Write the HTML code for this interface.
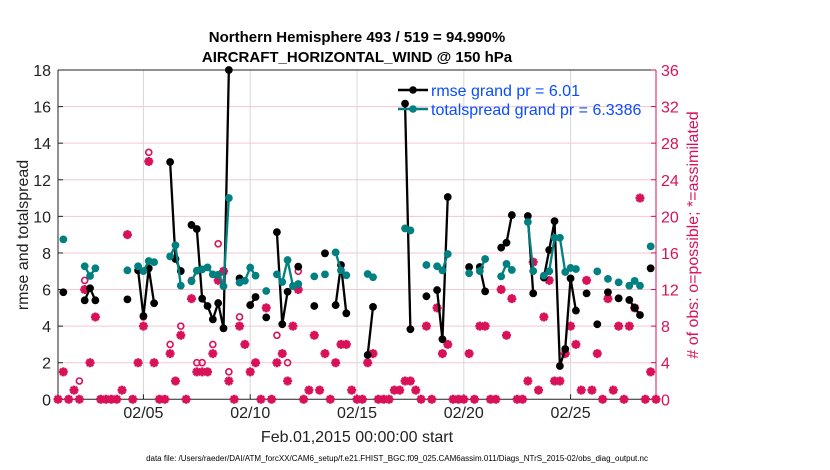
<!DOCTYPE html>
<html><head><meta charset="utf-8">
<style>
html,body{margin:0;padding:0;background:#fff;width:830px;height:470px;overflow:hidden}
svg{display:block;font-family:"Liberation Sans",Arial,sans-serif}
</style></head>
<body>
<svg id="chart" width="830" height="470" viewBox="0 0 830 470" xmlns="http://www.w3.org/2000/svg">
  <g id="grid"></g>
  <g id="axes"></g>
  <g id="marks"></g>
  <text x="357" y="42" text-anchor="middle" font-size="15" font-weight="bold" fill="#000">Northern Hemisphere 493 / 519 = 94.990%</text>
  <text x="357" y="62" text-anchor="middle" font-size="15" font-weight="bold" fill="#000">AIRCRAFT_HORIZONTAL_WIND @ 150 hPa</text>
  <text transform="translate(28,235) rotate(-90)" text-anchor="middle" font-size="16" fill="#222">rmse and totalspread</text>
  <text transform="translate(698,235) rotate(-90)" text-anchor="middle" font-size="16" fill="#d81159"># of obs: o=possible; *=assimilated</text>
  <text x="357" y="442" text-anchor="middle" font-size="16" fill="#222">Feb.01,2015 00:00:00 start</text>
  <text x="397" y="461" text-anchor="middle" font-size="8" fill="#000">data file: /Users/raeder/DAI/ATM_forcXX/CAM6_setup/f.e21.FHIST_BGC.f09_025.CAM6assim.011/Diags_NTrS_2015-02/obs_diag_output.nc</text>
  <g>
    <line x1="398" y1="90" x2="428" y2="90" stroke="#000" stroke-width="2.5"/>
    <circle cx="413" cy="90" r="3.8" fill="#000"/>
    <text x="431" y="96" font-size="16" fill="#0a4cff">rmse grand pr = 6.01</text>
    <line x1="398" y1="109" x2="428" y2="109" stroke="#008080" stroke-width="2.5"/>
    <circle cx="413" cy="109" r="3.8" fill="#008080"/>
    <text x="431" y="115" font-size="16" fill="#0a4cff">totalspread grand pr = 6.3386</text>
  </g>
</svg>
<script>
// slot index: 6-hourly from Feb 01 00Z
const rmseSlots = [1,5,6,7,13,15,16,17,18,21,22,23,25,26,27,28,29,30,31,32,34,36,37,39,41,42,43,45,48,50,52,53,54,58,59,65,66,69,71,72,73,77,79,80,83,84,85,88,89,91,92,93,94,95,96,97,99,101,103,105,107,108,109,111];
const rmseValues = [5.85,5.41,6.07,5.41,5.46,7.05,4.55,7.16,5.25,12.97,7.67,7.01,9.53,9.31,5.5,5.1,4.37,5.26,3.88,18,6.61,5.15,5.59,4.48,9.14,4.1,5.88,7.25,5.1,7.98,5.15,7.34,4.7,2.42,5.05,16.16,3.83,5.63,5.97,3.28,11.06,7.23,7.23,5.9,8.29,8.56,10.07,10.02,5.79,6.65,8.16,9.74,1.82,2.75,6.61,4.85,5.79,4.1,5.85,5.52,5.43,5.0,4.61,7.16];
const spreadSlots = [1,5,6,7,13,15,16,17,18,21,22,23,25,26,27,28,29,30,31,32,34,35,36,37,39,41,42,43,44,45,48,50,52,53,54,58,59,65,66,69,71,72,73,77,79,80,83,84,85,88,89,91,92,93,94,95,96,97,101,103,105,107,108,109,111];
const spreadValues = [8.74,7.27,6.74,7.16,7.05,7.27,7.01,7.56,7.5,7.81,8.42,6.21,6.45,7.03,7.1,7.21,6.83,6.81,6.18,11.0,6.38,6.48,7.2,6.76,5.92,6.83,6.41,7.61,6.19,6.3,6.72,6.83,8.03,7.05,6.78,6.85,6.67,9.34,9.23,7.34,7.27,7.05,7.94,6.89,7.01,7.67,6.72,7.4,7.07,9.69,7.01,6.76,7.0,8.83,8.83,6.96,7.18,7.12,6.99,6.58,6.39,6.21,6.47,6.21,8.36];
const assimCounts = [0,3,0,1,0,12,4,9,0,0,0,0,1,18,0,4,8,26,4,0,0,5,2,7,0,11,3,3,3,5,13,14,2,0,8,6,3,4,0,10,0,4,5,2,8,12,0,1,7,1,5,0,4,6,6,1,0,0,4,5,0,0,0,1,1,2,2,1,0,8,0,10,5,6,0,0,0,5,0,8,8,0,0,12,7,11,0,0,2,15,1,9,13,2,2,5,8,6,1,13,1,5,0,11,1,8,0,8,10,22,0,3,0];
const possibleCounts = [0,3,0,1,2,13,4,9,0,0,0,0,1,18,0,4,9,27,4,0,0,6,2,8,0,13,4,4,3,6,17,14,3,0,9,6,3,4,0,10,0,7,5,4,8,14,0,1,7,1,5,0,4,6,6,1,0,0,4,5,0,0,0,1,1,2,2,1,0,8,0,10,5,6,0,0,0,5,0,8,8,0,0,12,7,11,0,0,2,15,1,9,14,2,2,5,8,6,1,13,1,5,0,11,1,8,0,8,10,22,0,3,0];
const xTickDays = [5,10,15,20,25];
const xTickLabels = ["02/05","02/10","02/15","02/20","02/25"];
const leftTicks = [0,2,4,6,8,10,12,14,16,18];
const rightTicks = [0,4,8,12,16,20,24,28,32,36];

const NS = "http://www.w3.org/2000/svg";
const X0 = 58, X1 = 656, Y0 = 399.3, Y1 = 70;
const slotsTotal = 112;
function xs(slot){ return X0 + slot*(X1-X0)/slotsTotal; }
function xDay(day){ return xs((day-1)*4); }
function yl(v){ return Y0 - v*(Y0-Y1)/18; }
function yr(v){ return Y0 - v*(Y0-Y1)/36; }
function mk(tag, attrs, parent){
  const e = document.createElementNS(NS, tag);
  for (const k in attrs) e.setAttribute(k, attrs[k]);
  parent.appendChild(e); return e;
}
const grid = document.getElementById('grid');
const axes = document.getElementById('axes');
const marks = document.getElementById('marks');

rightTicks.forEach(v=>{
  if (v===0||v===36) return;
  const l = mk('line',{x1:X0,x2:X1,y1:yr(v),y2:yr(v),stroke:'#f3c6d6','stroke-width':1},grid);
  
  
});
xTickDays.forEach(d=>{
  const l = mk('line',{x1:xDay(d),x2:xDay(d),y1:Y1,y2:Y0,stroke:'#d8d8d8','stroke-width':1},grid);
  
  
});
mk('line',{x1:X0,x2:X1,y1:Y1,y2:Y1,stroke:'#222','stroke-width':1},axes);
mk('line',{x1:X0,x2:X1,y1:Y0,y2:Y0,stroke:'#222','stroke-width':1},axes);
mk('line',{x1:X0,x2:X0,y1:Y1,y2:Y0,stroke:'#222','stroke-width':1},axes);
mk('line',{x1:X1,x2:X1,y1:Y1,y2:Y0,stroke:'#d81159','stroke-width':1},axes);
leftTicks.forEach(v=>{
  mk('line',{x1:X0,x2:X0+5,y1:yl(v),y2:yl(v),stroke:'#222'},axes);
  const t = mk('text',{x:X0-7,y:yl(v)+6,'text-anchor':'end','font-size':16,fill:'#222'},axes);
  t.textContent = v;
  
  
});
rightTicks.forEach(v=>{
  mk('line',{x1:X1-5,x2:X1,y1:yr(v),y2:yr(v),stroke:'#d81159'},axes);
  const t = mk('text',{x:X1+5,y:yr(v)+6,'text-anchor':'start','font-size':16,fill:'#d81159'},axes);
  t.textContent = v;
  
  
});
xTickDays.forEach((d,i)=>{
  mk('line',{x1:xDay(d),x2:xDay(d),y1:Y0,y2:Y0-5,stroke:'#222'},axes);
  const t = mk('text',{x:xDay(d),y:418,'text-anchor':'middle','font-size':16,fill:'#222'},axes);
  t.textContent = xTickLabels[i];
  
  
});

const PINK = '#d81159';
possibleCounts.forEach((c,i)=>{
  const e = mk('circle',{cx:xs(i),cy:yr(c),r:3,fill:'none',stroke:PINK,'stroke-width':1.6},marks);
  
  
});
assimCounts.forEach((c,i)=>{
  const x = xs(i), y = yr(c), r = 4.5;
  const d = `M${x-r},${y}L${x+r},${y}M${x},${y-r}L${x},${y+r}M${x-3.2},${y-3.2}L${x+3.2},${y+3.2}M${x-3.2},${y+3.2}L${x+3.2},${y-3.2}`;
  const e = mk('path',{d:d,stroke:PINK,'stroke-width':2.6,fill:'none'},marks);
  
  
});

function series(slots, vals, color, name){
  let d = '';
  for (let i=0;i<slots.length;i++){
    const cmd = (i>0 && slots[i]===slots[i-1]+1) ? 'L' : 'M';
    d += cmd + xs(slots[i]) + ',' + yl(vals[i]);
  }
  const p = mk('path',{d:d,stroke:color,'stroke-width':2.3,fill:'none','stroke-linejoin':'round'},marks);
  
  
  slots.forEach((s,i)=>{
    const c = mk('circle',{cx:xs(s),cy:yl(vals[i]),r:3.9,fill:color},marks);
    
    
  });
}
series(rmseSlots, rmseValues, '#000', 'rmse');
series(spreadSlots, spreadValues, '#008080', 'totalspread');
</script>
</body></html>
